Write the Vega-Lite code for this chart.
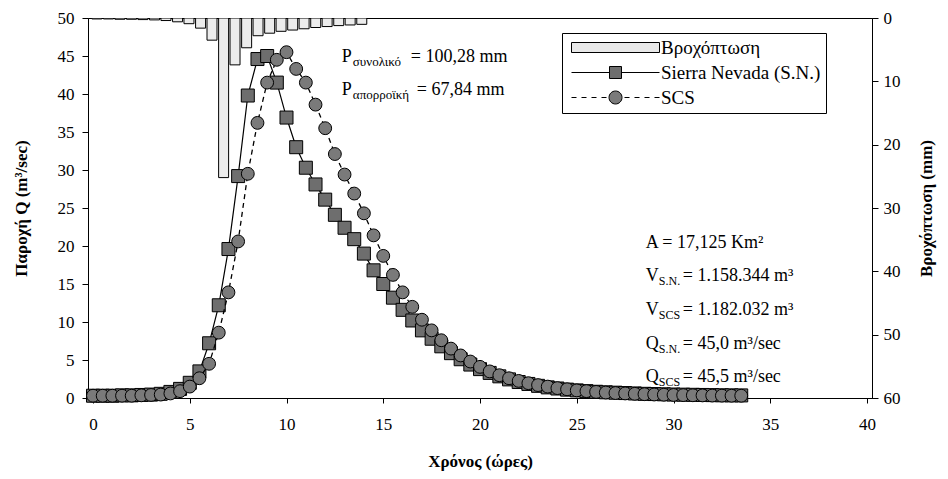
{
  "$schema": "https://vega.github.io/schema/vega-lite/v6.json",
  "width": 784,
  "height": 380,
  "autosize": {"type": "none"},
  "padding": {"left": 88, "top": 18, "right": 76, "bottom": 81},
  "background": "white",
  "config": {
    "font": "Liberation Serif",
    "view": {"stroke": "black", "strokeWidth": 1},
    "axis": {"grid": false, "domainColor": "black", "tickColor": "black", "labelColor": "black", "titleColor": "black", "labelFont": "Liberation Serif", "titleFont": "Liberation Serif", "labelFontSize": 17, "titleFontSize": 17, "titleFontWeight": "bold", "labelOverlap": false},
    "legend": {"strokeColor": "black", "fillColor": "white"},
    "text": {"font": "Liberation Serif", "color": "black"}
  },
  "datasets": {
    "rain": [
      {"t": 0.2, "rain": 0.15}, {"t": 0.8, "rain": 0.15}, {"t": 1.39, "rain": 0.2}, {"t": 1.99, "rain": 0.2},
      {"t": 2.58, "rain": 0.25}, {"t": 3.18, "rain": 0.3}, {"t": 3.77, "rain": 0.4}, {"t": 4.37, "rain": 0.6},
      {"t": 4.96, "rain": 0.9}, {"t": 5.56, "rain": 1.6}, {"t": 6.15, "rain": 3.5}, {"t": 6.75, "rain": 25.2},
      {"t": 7.34, "rain": 7.4}, {"t": 7.94, "rain": 4.7}, {"t": 8.53, "rain": 2.8}, {"t": 9.13, "rain": 2.4},
      {"t": 9.72, "rain": 2.1}, {"t": 10.32, "rain": 1.9}, {"t": 10.91, "rain": 1.7}, {"t": 11.51, "rain": 1.5},
      {"t": 12.1, "rain": 1.35}, {"t": 12.7, "rain": 1.2}, {"t": 13.29, "rain": 1.1}, {"t": 13.89, "rain": 1.0}
    ],
    "sn": [
      {"t": 0, "q": 0.3}, {"t": 0.5, "q": 0.3}, {"t": 1, "q": 0.3}, {"t": 1.5, "q": 0.35}, {"t": 2, "q": 0.35},
      {"t": 2.5, "q": 0.4}, {"t": 3, "q": 0.45}, {"t": 3.5, "q": 0.55}, {"t": 4, "q": 0.8}, {"t": 4.5, "q": 1.2},
      {"t": 5, "q": 2.0}, {"t": 5.5, "q": 3.5}, {"t": 6, "q": 7.2}, {"t": 6.5, "q": 12.2}, {"t": 7, "q": 19.6},
      {"t": 7.5, "q": 29.2}, {"t": 8, "q": 39.8}, {"t": 8.5, "q": 44.6}, {"t": 9, "q": 45.0}, {"t": 9.5, "q": 41.5},
      {"t": 10, "q": 36.9}, {"t": 10.5, "q": 33.0}, {"t": 11, "q": 30.3}, {"t": 11.5, "q": 28.1}, {"t": 12, "q": 26.1},
      {"t": 12.5, "q": 24.1}, {"t": 13, "q": 22.4}, {"t": 13.5, "q": 20.9}, {"t": 14, "q": 19.0}, {"t": 14.5, "q": 16.8},
      {"t": 15, "q": 15.0}, {"t": 15.5, "q": 13.2}, {"t": 16, "q": 11.6}, {"t": 16.5, "q": 10.2}, {"t": 17, "q": 8.9},
      {"t": 17.5, "q": 7.8}, {"t": 18, "q": 6.8}, {"t": 18.5, "q": 5.9}, {"t": 19, "q": 5.1}, {"t": 19.5, "q": 4.4},
      {"t": 20, "q": 3.8}, {"t": 20.5, "q": 3.3}, {"t": 21, "q": 2.85}, {"t": 21.5, "q": 2.45}, {"t": 22, "q": 2.1},
      {"t": 22.5, "q": 1.85}, {"t": 23, "q": 1.6}, {"t": 23.5, "q": 1.4}, {"t": 24, "q": 1.25}, {"t": 24.5, "q": 1.1},
      {"t": 25, "q": 1.0}, {"t": 25.5, "q": 0.9}, {"t": 26, "q": 0.82}, {"t": 26.5, "q": 0.75}, {"t": 27, "q": 0.7},
      {"t": 27.5, "q": 0.65}, {"t": 28, "q": 0.6}, {"t": 28.5, "q": 0.55}, {"t": 29, "q": 0.52}, {"t": 29.5, "q": 0.49},
      {"t": 30, "q": 0.46}, {"t": 30.5, "q": 0.44}, {"t": 31, "q": 0.42}, {"t": 31.5, "q": 0.4}, {"t": 32, "q": 0.38},
      {"t": 32.5, "q": 0.36}, {"t": 33, "q": 0.35}, {"t": 33.5, "q": 0.34}
    ],
    "scs": [
      {"t": 0, "q": 0.3}, {"t": 0.5, "q": 0.3}, {"t": 1, "q": 0.3}, {"t": 1.5, "q": 0.3}, {"t": 2, "q": 0.3},
      {"t": 2.5, "q": 0.35}, {"t": 3, "q": 0.4}, {"t": 3.5, "q": 0.45}, {"t": 4, "q": 0.6}, {"t": 4.5, "q": 0.9},
      {"t": 5, "q": 1.5}, {"t": 5.5, "q": 2.6}, {"t": 6, "q": 4.5}, {"t": 6.5, "q": 8.6}, {"t": 7, "q": 13.9},
      {"t": 7.5, "q": 20.6}, {"t": 8, "q": 29.5}, {"t": 8.5, "q": 36.2}, {"t": 9, "q": 41.5}, {"t": 9.5, "q": 44.5},
      {"t": 10, "q": 45.5}, {"t": 10.5, "q": 43.3}, {"t": 11, "q": 41.5}, {"t": 11.5, "q": 38.6}, {"t": 12, "q": 35.5},
      {"t": 12.5, "q": 32.1}, {"t": 13, "q": 29.4}, {"t": 13.5, "q": 26.9}, {"t": 14, "q": 24.3}, {"t": 14.5, "q": 21.4},
      {"t": 15, "q": 18.7}, {"t": 15.5, "q": 16.2}, {"t": 16, "q": 13.9}, {"t": 16.5, "q": 12.0}, {"t": 17, "q": 10.3},
      {"t": 17.5, "q": 8.9}, {"t": 18, "q": 7.6}, {"t": 18.5, "q": 6.5}, {"t": 19, "q": 5.6}, {"t": 19.5, "q": 4.8},
      {"t": 20, "q": 4.1}, {"t": 20.5, "q": 3.5}, {"t": 21, "q": 3.0}, {"t": 21.5, "q": 2.6}, {"t": 22, "q": 2.25},
      {"t": 22.5, "q": 1.95}, {"t": 23, "q": 1.7}, {"t": 23.5, "q": 1.5}, {"t": 24, "q": 1.3}, {"t": 24.5, "q": 1.15},
      {"t": 25, "q": 1.0}, {"t": 25.5, "q": 0.9}, {"t": 26, "q": 0.8}, {"t": 26.5, "q": 0.72}, {"t": 27, "q": 0.65},
      {"t": 27.5, "q": 0.6}, {"t": 28, "q": 0.55}, {"t": 28.5, "q": 0.5}, {"t": 29, "q": 0.46}, {"t": 29.5, "q": 0.43},
      {"t": 30, "q": 0.4}, {"t": 30.5, "q": 0.38}, {"t": 31, "q": 0.36}, {"t": 31.5, "q": 0.34}, {"t": 32, "q": 0.32},
      {"t": 32.5, "q": 0.31}, {"t": 33, "q": 0.3}, {"t": 33.5, "q": 0.3}
    ]
  },
  "layer": [
    {
      "data": {"name": "rain"},
      "mark": {"type": "bar", "size": 10, "fill": "#ececec", "stroke": "black", "strokeWidth": 1, "clip": true},
      "encoding": {
        "x": {"field": "t", "type": "quantitative", "scale": {"domain": [0, 40], "nice": false},
              "axis": {"values": [0, 5, 10, 15, 20, 25, 30, 35, 40], "title": "Χρόνος (ώρες)", "tickSize": 5, "labelPadding": 13, "titlePadding": 21}},
        "y": {"field": "rain", "type": "quantitative", "scale": {"domain": [0, 60], "reverse": true, "nice": false},
              "axis": {"orient": "right", "values": [0, 10, 20, 30, 40, 50, 60], "title": "Βροχόπτωση (mm)", "titleAngle": 270, "tickSize": 6, "labelPadding": 5, "titlePadding": 35}},
        "y2": {"datum": 0}
      }
    },
    {
      "layer": [
        {
          "data": {"name": "sn"},
          "mark": {"type": "line", "color": "black", "strokeWidth": 1.2},
          "encoding": {
            "x": {"field": "t", "type": "quantitative", "scale": {"domain": [0, 40], "nice": false},
                  "axis": {"values": [0, 5, 10, 15, 20, 25, 30, 35, 40], "title": "Χρόνος (ώρες)", "tickSize": 5, "labelPadding": 13, "titlePadding": 21}},
            "y": {"field": "q", "type": "quantitative", "scale": {"domain": [0, 50], "nice": false},
                  "axis": {"orient": "left", "values": [0, 5, 10, 15, 20, 25, 30, 35, 40, 45, 50], "title": "Παροχή Q (m³/sec)", "tickSize": 6, "labelPadding": 8, "titlePadding": 27}}
          }
        },
        {
          "data": {"name": "sn"},
          "mark": {"type": "point", "shape": "square", "size": 169, "filled": true, "fill": "#6e6e6e", "stroke": "black", "strokeWidth": 1, "opacity": 1},
          "encoding": {
            "x": {"field": "t", "type": "quantitative", "scale": {"domain": [0, 40], "nice": false},
                  "axis": {"values": [0, 5, 10, 15, 20, 25, 30, 35, 40], "title": "Χρόνος (ώρες)", "tickSize": 5, "labelPadding": 13, "titlePadding": 21}},
            "y": {"field": "q", "type": "quantitative", "scale": {"domain": [0, 50], "nice": false},
                  "axis": {"orient": "left", "values": [0, 5, 10, 15, 20, 25, 30, 35, 40, 45, 50], "title": "Παροχή Q (m³/sec)", "tickSize": 6, "labelPadding": 8, "titlePadding": 27}}
          }
        },
        {
          "data": {"name": "scs"},
          "mark": {"type": "line", "color": "black", "strokeWidth": 1.3, "strokeDash": [5, 4]},
          "encoding": {
            "x": {"field": "t", "type": "quantitative", "scale": {"domain": [0, 40], "nice": false},
                  "axis": {"values": [0, 5, 10, 15, 20, 25, 30, 35, 40], "title": "Χρόνος (ώρες)", "tickSize": 5, "labelPadding": 13, "titlePadding": 21}},
            "y": {"field": "q", "type": "quantitative", "scale": {"domain": [0, 50], "nice": false},
                  "axis": {"orient": "left", "values": [0, 5, 10, 15, 20, 25, 30, 35, 40, 45, 50], "title": "Παροχή Q (m³/sec)", "tickSize": 6, "labelPadding": 8, "titlePadding": 27}}
          }
        },
        {
          "data": {"name": "scs"},
          "mark": {"type": "point", "shape": "circle", "size": 165, "filled": true, "fill": "#7a7a7a", "stroke": "black", "strokeWidth": 1, "opacity": 1},
          "encoding": {
            "x": {"field": "t", "type": "quantitative", "scale": {"domain": [0, 40], "nice": false},
                  "axis": {"values": [0, 5, 10, 15, 20, 25, 30, 35, 40], "title": "Χρόνος (ώρες)", "tickSize": 5, "labelPadding": 13, "titlePadding": 21}},
            "y": {"field": "q", "type": "quantitative", "scale": {"domain": [0, 50], "nice": false},
                  "axis": {"orient": "left", "values": [0, 5, 10, 15, 20, 25, 30, 35, 40, 45, 50], "title": "Παροχή Q (m³/sec)", "tickSize": 6, "labelPadding": 8, "titlePadding": 27}}
          }
        },
        {
          "data": {"values": [{"series": "Βροχόπτωση"}, {"series": "Sierra Nevada (S.N.)"}, {"series": "SCS"}]},
          "mark": {"type": "point", "opacity": 0, "filled": true, "size": 100, "stroke": "black", "strokeWidth": 1},
          "encoding": {
            "fill": {
              "field": "series", "type": "nominal",
              "scale": {"domain": ["Βροχόπτωση", "Sierra Nevada (S.N.)", "SCS"], "range": ["#e8e8e8", "#6e6e6e", "#7a7a7a"]},
              "legend": {
                "title": null, "orient": "none", "legendX": 474, "legendY": 15, "direction": "vertical",
                "symbolSize": 100, "labelOffset": 75, "labelFontSize": 19, "labelFont": "Liberation Serif", "labelColor": "black",
                "strokeColor": "black", "fillColor": "white", "padding": 5, "rowPadding": 5,
                "symbolOpacity": 1, "symbolFillColor": "#707070", "symbolStrokeColor": "black", "symbolStrokeWidth": 1
              }
            },
            "shape": {
              "field": "series", "type": "nominal",
              "scale": {
                "domain": ["Βροχόπτωση", "Sierra Nevada (S.N.)", "SCS"],
                "range": [
                  "M-1,-1H16.6V1H-1Z",
                  "M-1,0H6.6M9,0H16.6M6.6,-1.2H9V1.2H6.6Z",
                  "M-1,0H0M1,0H2M3,0H4M5,0H6M9.6,0H10.6M11.6,0H12.6M13.6,0H14.6M15.6,0H16.6M9.1,0A1.3,1.3 0 1,1 6.5,0A1.3,1.3 0 1,1 9.1,0Z"
                ]
              },
              "legend": {
                "title": null, "orient": "none", "legendX": 474, "legendY": 15, "direction": "vertical",
                "symbolSize": 100, "labelOffset": 75, "labelFontSize": 19, "labelFont": "Liberation Serif", "labelColor": "black",
                "strokeColor": "black", "fillColor": "white", "padding": 5, "rowPadding": 5,
                "symbolOpacity": 1, "symbolFillColor": "#707070", "symbolStrokeColor": "black", "symbolStrokeWidth": 1
              }
            }
          }
        },
        {
          "data": {"values": [{"s": "P", "q": 44.87}, {"s": "P", "q": 40.53}]},
          "mark": {"type": "text", "align": "left", "baseline": "middle", "fontSize": 18},
          "encoding": {"x": {"datum": 12.86, "type": "quantitative", "scale": {"domain": [0, 40], "nice": false},
                             "axis": {"values": [0, 5, 10, 15, 20, 25, 30, 35, 40], "title": "Χρόνος (ώρες)", "tickSize": 5, "labelPadding": 13, "titlePadding": 21}},
                       "y": {"field": "q", "type": "quantitative", "scale": {"domain": [0, 50], "nice": false},
                             "axis": {"orient": "left", "values": [0, 5, 10, 15, 20, 25, 30, 35, 40, 45, 50], "title": "Παροχή Q (m³/sec)", "tickSize": 6, "labelPadding": 8, "titlePadding": 27}},
                       "text": {"field": "s"}}
        },
        {
          "data": {"values": [{"s": "συνολικό", "q": 44.87}, {"s": "απορροϊκή", "q": 40.53}]},
          "mark": {"type": "text", "align": "left", "baseline": "middle", "fontSize": 13, "dx": 11, "dy": 5},
          "encoding": {"x": {"datum": 12.86, "type": "quantitative", "scale": {"domain": [0, 40], "nice": false},
                             "axis": {"values": [0, 5, 10, 15, 20, 25, 30, 35, 40], "title": "Χρόνος (ώρες)", "tickSize": 5, "labelPadding": 13, "titlePadding": 21}},
                       "y": {"field": "q", "type": "quantitative", "scale": {"domain": [0, 50], "nice": false},
                             "axis": {"orient": "left", "values": [0, 5, 10, 15, 20, 25, 30, 35, 40, 45, 50], "title": "Παροχή Q (m³/sec)", "tickSize": 6, "labelPadding": 8, "titlePadding": 27}},
                       "text": {"field": "s"}}
        },
        {
          "data": {"values": [{"s": "= 100,28 mm", "q": 44.87}]},
          "mark": {"type": "text", "align": "left", "baseline": "middle", "fontSize": 18, "dx": 69},
          "encoding": {"x": {"datum": 12.86, "type": "quantitative", "scale": {"domain": [0, 40], "nice": false},
                             "axis": {"values": [0, 5, 10, 15, 20, 25, 30, 35, 40], "title": "Χρόνος (ώρες)", "tickSize": 5, "labelPadding": 13, "titlePadding": 21}},
                       "y": {"field": "q", "type": "quantitative", "scale": {"domain": [0, 50], "nice": false},
                             "axis": {"orient": "left", "values": [0, 5, 10, 15, 20, 25, 30, 35, 40, 45, 50], "title": "Παροχή Q (m³/sec)", "tickSize": 6, "labelPadding": 8, "titlePadding": 27}},
                       "text": {"field": "s"}}
        },
        {
          "data": {"values": [{"s": "= 67,84 mm", "q": 40.53}]},
          "mark": {"type": "text", "align": "left", "baseline": "middle", "fontSize": 18, "dx": 75},
          "encoding": {"x": {"datum": 12.86, "type": "quantitative", "scale": {"domain": [0, 40], "nice": false},
                             "axis": {"values": [0, 5, 10, 15, 20, 25, 30, 35, 40], "title": "Χρόνος (ώρες)", "tickSize": 5, "labelPadding": 13, "titlePadding": 21}},
                       "y": {"field": "q", "type": "quantitative", "scale": {"domain": [0, 50], "nice": false},
                             "axis": {"orient": "left", "values": [0, 5, 10, 15, 20, 25, 30, 35, 40, 45, 50], "title": "Παροχή Q (m³/sec)", "tickSize": 6, "labelPadding": 8, "titlePadding": 27}},
                       "text": {"field": "s"}}
        },
        {
          "data": {"values": [{"s": "A = 17,125 Km²", "q": 20.4}, {"s": "V", "q": 16.05}, {"s": "V", "q": 11.58}, {"s": "Q", "q": 7.1}, {"s": "Q", "q": 2.76}]},
          "mark": {"type": "text", "align": "left", "baseline": "middle", "fontSize": 18},
          "encoding": {"x": {"datum": 28.57, "type": "quantitative", "scale": {"domain": [0, 40], "nice": false},
                             "axis": {"values": [0, 5, 10, 15, 20, 25, 30, 35, 40], "title": "Χρόνος (ώρες)", "tickSize": 5, "labelPadding": 13, "titlePadding": 21}},
                       "y": {"field": "q", "type": "quantitative", "scale": {"domain": [0, 50], "nice": false},
                             "axis": {"orient": "left", "values": [0, 5, 10, 15, 20, 25, 30, 35, 40, 45, 50], "title": "Παροχή Q (m³/sec)", "tickSize": 6, "labelPadding": 8, "titlePadding": 27}},
                       "text": {"field": "s"}}
        },
        {
          "data": {"values": [{"s": "S.N.", "q": 16.05}, {"s": "SCS", "q": 11.58}, {"s": "S.N.", "q": 7.1}, {"s": "SCS", "q": 2.76}]},
          "mark": {"type": "text", "align": "left", "baseline": "middle", "fontSize": 12, "dx": 13, "dy": 5},
          "encoding": {"x": {"datum": 28.57, "type": "quantitative", "scale": {"domain": [0, 40], "nice": false},
                             "axis": {"values": [0, 5, 10, 15, 20, 25, 30, 35, 40], "title": "Χρόνος (ώρες)", "tickSize": 5, "labelPadding": 13, "titlePadding": 21}},
                       "y": {"field": "q", "type": "quantitative", "scale": {"domain": [0, 50], "nice": false},
                             "axis": {"orient": "left", "values": [0, 5, 10, 15, 20, 25, 30, 35, 40, 45, 50], "title": "Παροχή Q (m³/sec)", "tickSize": 6, "labelPadding": 8, "titlePadding": 27}},
                       "text": {"field": "s"}}
        },
        {
          "data": {"values": [{"s": "= 1.158.344 m³", "q": 16.05}, {"s": "= 1.182.032 m³", "q": 11.58}, {"s": "= 45,0 m³/sec", "q": 7.1}, {"s": "= 45,5 m³/sec", "q": 2.76}]},
          "mark": {"type": "text", "align": "left", "baseline": "middle", "fontSize": 18, "dx": 37},
          "encoding": {"x": {"datum": 28.57, "type": "quantitative", "scale": {"domain": [0, 40], "nice": false},
                             "axis": {"values": [0, 5, 10, 15, 20, 25, 30, 35, 40], "title": "Χρόνος (ώρες)", "tickSize": 5, "labelPadding": 13, "titlePadding": 21}},
                       "y": {"field": "q", "type": "quantitative", "scale": {"domain": [0, 50], "nice": false},
                             "axis": {"orient": "left", "values": [0, 5, 10, 15, 20, 25, 30, 35, 40, 45, 50], "title": "Παροχή Q (m³/sec)", "tickSize": 6, "labelPadding": 8, "titlePadding": 27}},
                       "text": {"field": "s"}}
        }
      ]
    }
  ],
  "resolve": {"scale": {"y": "independent"}}
}
